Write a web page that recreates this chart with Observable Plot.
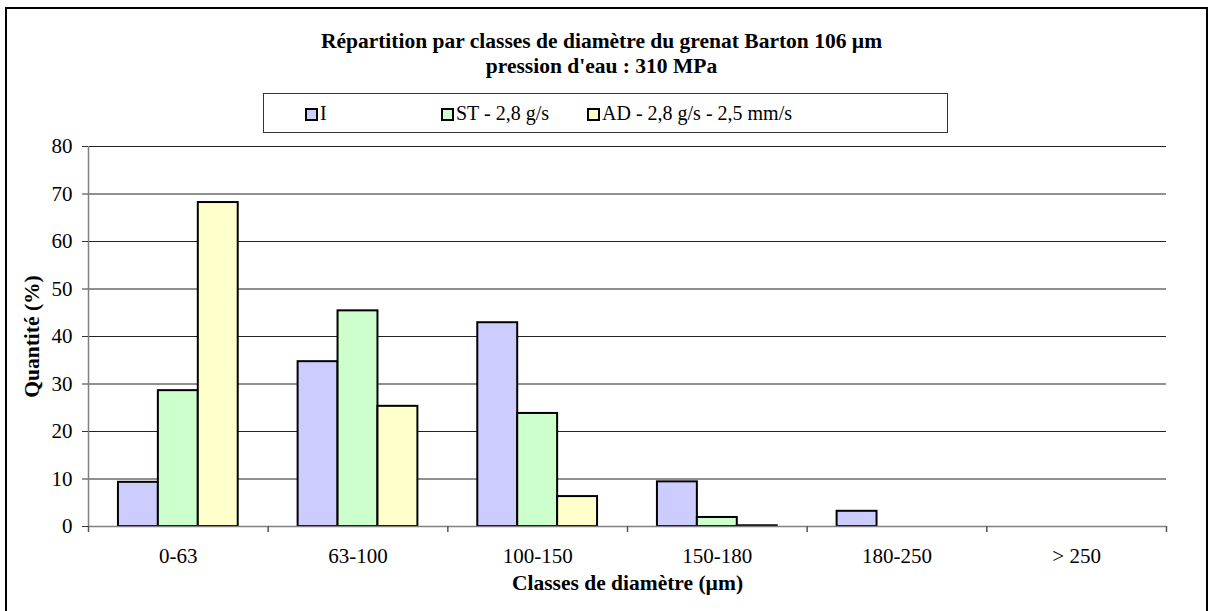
<!DOCTYPE html>
<html>
<head>
<meta charset="utf-8">
<script src="https://cdn.jsdelivr.net/npm/d3@7"></script>
<script src="https://cdn.jsdelivr.net/npm/@observablehq/plot@0.6"></script>
<style>
  body { margin: 0; background: #fff; }
  #wrap, #wrap * { font-family: "Liberation Serif", "Times New Roman", serif !important; }
  #wrap { position: relative; width: 1215px; height: 611px; overflow: hidden; background: #fff; color: #000; }
  #frame { position: absolute; left: 5px; top: 7px; width: 1199px; height: 640px; border: 2px solid #000;
           pointer-events: none; box-sizing: content-box; z-index: 3; }
  #title { position: absolute; left: 0; width: 1203px; top: 29px; text-align: center; font-weight: bold;
           font-size: 21.5px; line-height: 25px; z-index: 2; }
  #legend { position: absolute; left: 263px; top: 93px; width: 683px; height: 38px; border: 1px solid #333;
            background: #fff; z-index: 2; }
  .item { position: absolute; top: 0; height: 38px; line-height: 38px; font-size: 20px; white-space: nowrap; }
  .sw { display: inline-block; width: 9px; height: 9px; border: 2px solid #000; margin-right: 2px; vertical-align: -1px; }
  #chart { position: absolute; left: 0; top: 116px; z-index: 1; }
</style>
</head>
<body>
<div id="wrap">
  <div id="title">Répartition par classes de diamètre du grenat Barton 106 µm<br>pression d'eau : 310 MPa</div>
  <div id="legend"></div>
  <div id="chart"></div>
  <div id="frame"></div>
</div>
<script>
// ---- data ----
const categories = ["0-63", "63-100", "100-150", "150-180", "180-250", "> 250"];
const seriesNames = ["I", "ST - 2,8 g/s", "AD - 2,8 g/s - 2,5 mm/s"];
const seriesColors = ["#CCCCFF", "#CCFFCC", "#FFFFCC"];
const valuesI  = [9.3, 34.7, 42.9, 9.4, 3.2, 0];
const valuesST = [28.6, 45.4, 23.8, 1.9, 0, 0];
const valuesAD = [68.2, 25.3, 6.3, 0.15, 0, 0];
const yTicks = [0, 10, 20, 30, 40, 50, 60, 70, 80];
const xTitle = "Classes de diamètre (µm)";
const yTitle = "Quantité (%)";

// ---- legend ----
const legendLeft = [41, 177, 323];
const legend = document.getElementById("legend");
seriesNames.forEach((name, k) => {
  const it = document.createElement("div");
  it.className = "item";
  it.style.left = legendLeft[k] + "px";
  const sw = document.createElement("span");
  sw.className = "sw";
  sw.style.background = seriesColors[k];
  it.appendChild(sw);
  it.appendChild(document.createTextNode(name));
  legend.appendChild(it);
});

// ---- chart ----
const W = 1215, H = 495, mL = 88, mR = 49, mT = 30, mB = 85;
const step = (W - mL - mR) / categories.length;
const barW = step * 40 / 180;
const inset = (step - barW) / 2;

const allSeries = [valuesI, valuesST, valuesAD];
const barMarks = allSeries.map((vals, k) => {
  const rows = categories.map((c, i) => ({cat: c, value: vals[i]})).filter(d => d.value > 0);
  return Plot.barY(rows, {
    x: "cat", y: "value", fill: seriesColors[k], stroke: "#000", strokeWidth: 2,
    insetLeft: inset, insetRight: inset, dx: (k - 1) * barW
  });
});

const plot = Plot.plot({
  width: W, height: H,
  marginLeft: mL, marginRight: mR, marginTop: mT, marginBottom: mB,
  style: {fontFamily: "Liberation Serif, Times New Roman, serif", fontSize: "21px", color: "#000", background: "transparent"},
  x: {type: "band", domain: categories, padding: 0, round: false},
  y: {domain: [0, 80]},
  marks: [
    Plot.gridY(yTicks.filter(v => v > 0), {stroke: "#222", strokeOpacity: 1, strokeWidth: 1}),
    ...barMarks,
    Plot.ruleY([0], {stroke: "#808080", strokeWidth: 1.5}),
    Plot.ruleX([categories[0]], {x: d => d, dx: -step / 2, stroke: "#808080", strokeWidth: 1.5}),
    Plot.ruleX(categories, {x: d => d, dx: -step / 2, y1: 0, y2: 0, insetBottom: -6, stroke: "#555", strokeWidth: 1.5}),
    Plot.ruleX([categories[categories.length - 1]], {x: d => d, dx: step / 2, y1: 0, y2: 0, insetBottom: -6, stroke: "#555", strokeWidth: 1.5}),
    Plot.axisY({ticks: yTicks, tickSize: 6, tickPadding: 10, fontSize: 21, label: null, stroke: "#333"}),
    Plot.axisX({tickSize: 0, tickPadding: 22, fontSize: 21, label: null}),
    Plot.text([xTitle], {text: d => d, frameAnchor: "bottom", dy: 63, fontWeight: "bold", fontSize: 21.5}),
    Plot.text([yTitle], {text: d => d, frameAnchor: "left", textAnchor: "middle", rotate: -90, dx: -56, fontWeight: "bold", fontSize: 21.5})
  ]
});
document.getElementById("chart").appendChild(plot);
</script>
</body>
</html>
